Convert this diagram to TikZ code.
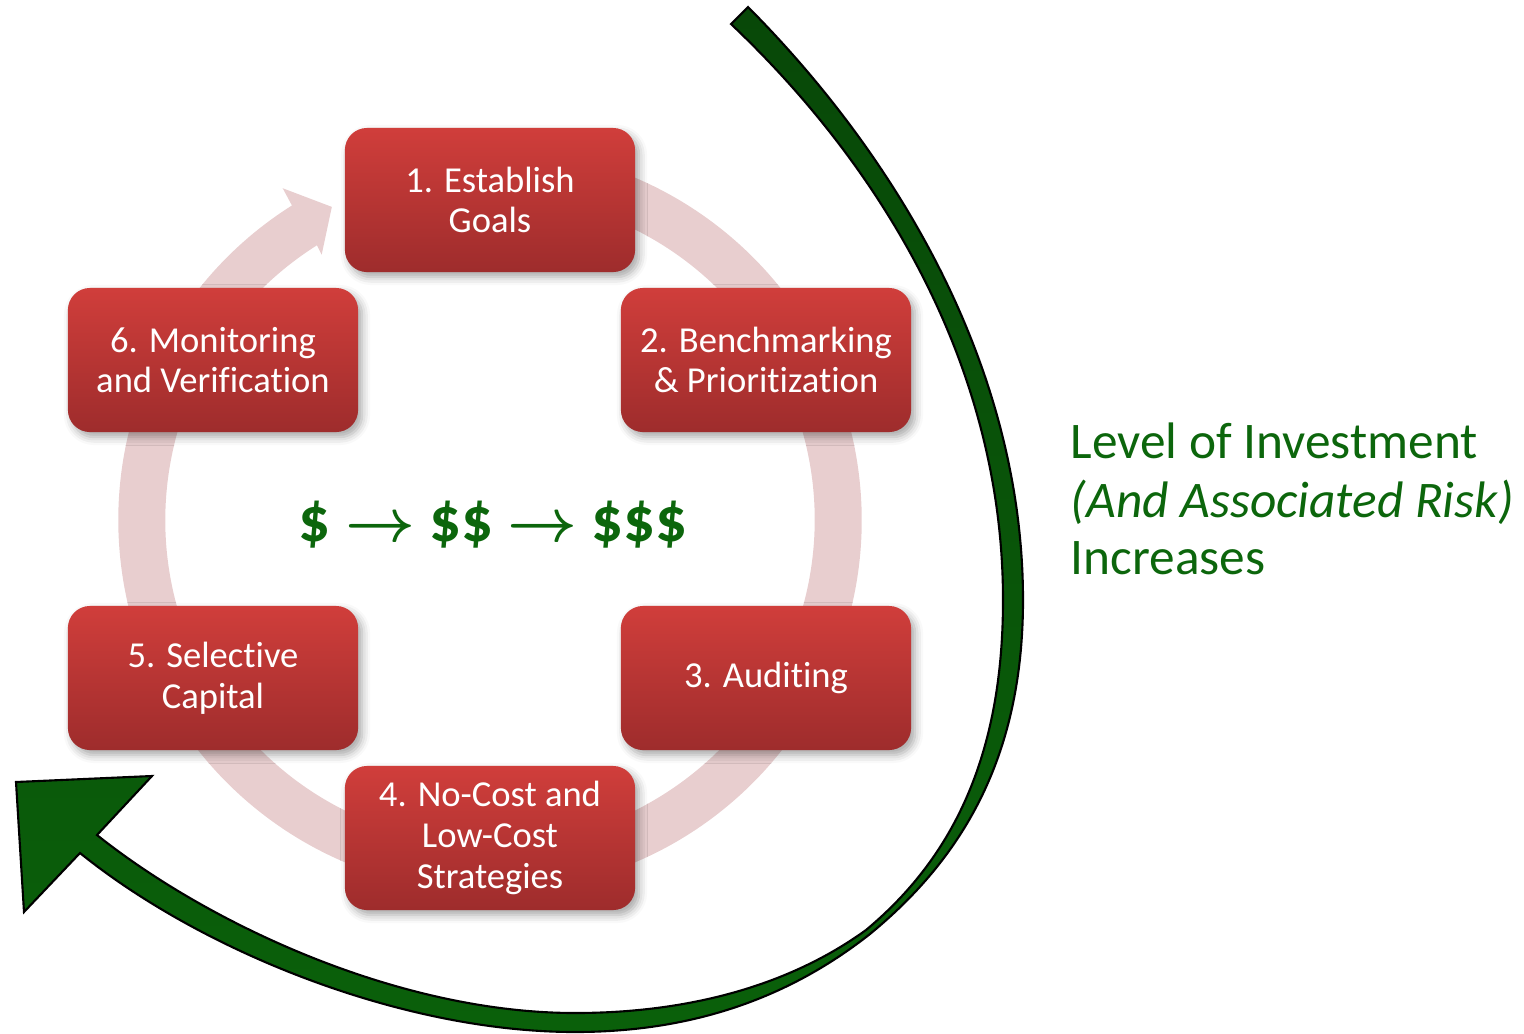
\documentclass[tikz,border=0pt]{standalone}
\usepackage{fontspec}
\setmainfont{Carlito}[Ligatures=NoCommon]
\usetikzlibrary{shadows.blur}

\definecolor{boxtop}{RGB}{208,62,59}
\definecolor{boxbot}{RGB}{158,44,44}
\definecolor{ringpink}{RGB}{232,206,207}
\definecolor{leafgreen}{RGB}{12,102,12}
\definecolor{arrowdark}{RGB}{8,72,8}
\definecolor{arrowlight}{RGB}{10,96,10}

\begin{document}
\begin{tikzpicture}[x=0.01cm, y=0.01cm,
  stepbox/.style={rectangle, rounded corners=0.22cm,
    minimum width=2.9cm, minimum height=1.44cm, inner sep=0pt,
    top color=boxtop, bottom color=boxbot,
    text=white, align=center,
    font=\fontsize{10.4}{11.6}\selectfont,
    blur shadow={shadow xshift=0.04cm, shadow yshift=-0.05cm,
      shadow blur radius=0.08cm, shadow opacity=35}},
  sidetext/.style={anchor=base west, inner sep=0pt, text=leafgreen,
    font=\fontsize{14.6}{17}\selectfont}]

\useasboundingbox (0,0) rectangle (1524,-1033);

% cycle ring with its arrowhead pointing into step 1
\begin{scope}[shift={(490,-520)}]
  \fill[ringpink]
    (95:3.715cm) arc[start angle=95, end angle=-237.8, radius=3.715cm]
    -- (-238:3.91cm) -- (-243.2:3.506cm) -- (-237.6:3.14cm)
    -- (-237.8:3.245cm) arc[start angle=-237.8, end angle=95, radius=3.245cm]
    -- cycle;
\end{scope}

% the six steps
\node[stepbox] (s1) at (490,-200) {1. Establish\\Goals};
\node[stepbox] (s2) at (766,-360) {2. Benchmarking\\\& Prioritization};
\node[stepbox] (s3) at (766,-678) {3. Auditing};
\node[stepbox] (s4) at (490,-838) {4. No-Cost and\\Low-Cost\\Strategies};
\node[stepbox] (s5) at (213,-678) {5. Selective\\Capital};
\node[stepbox] (s6) at (213,-360) {6. Monitoring\\and Verification};

% cost progression in the middle
\node[anchor=base, inner sep=0pt, text=leafgreen,
      font=\fontsize{17.9}{21}\selectfont\bfseries\boldmath] (cost) at (493,-541)
  {\$ $\rightarrow$ \$\$ $\rightarrow$ \$\$\$};

% caption on the right
\node[sidetext] (t1) at (1070,-458) {Level of Investment};
\node[sidetext] (t2) at (1070,-517) {\itshape (And Associated Risk)};
\node[sidetext] (t3) at (1070,-574) {Increases};

% large curved arrow sweeping around the cycle
\path[draw=black, line width=0.6pt, line join=miter,
      top color=arrowdark, bottom color=arrowlight]
  (748,-7) .. controls (900,-160) and (1023,-370) .. (1023,-600)
  .. controls (1023,-760) and (960,-860) .. (870,-934)
  .. controls (780,-1005) and (680,-1032) .. (575,-1032)
  .. controls (400,-1032) and (200,-950) .. (80,-853)
  -- (24,-912) -- (16,-782) -- (152,-776) -- (97,-835)
  .. controls (210,-925) and (400,-1013) .. (575,-1013)
  .. controls (690,-1013) and (790,-985) .. (866,-930)
  .. controls (950,-860) and (1003,-760) .. (1003,-600)
  .. controls (1003,-370) and (885,-170) .. (731,-24)
  -- cycle;

\end{tikzpicture}
\end{document}
